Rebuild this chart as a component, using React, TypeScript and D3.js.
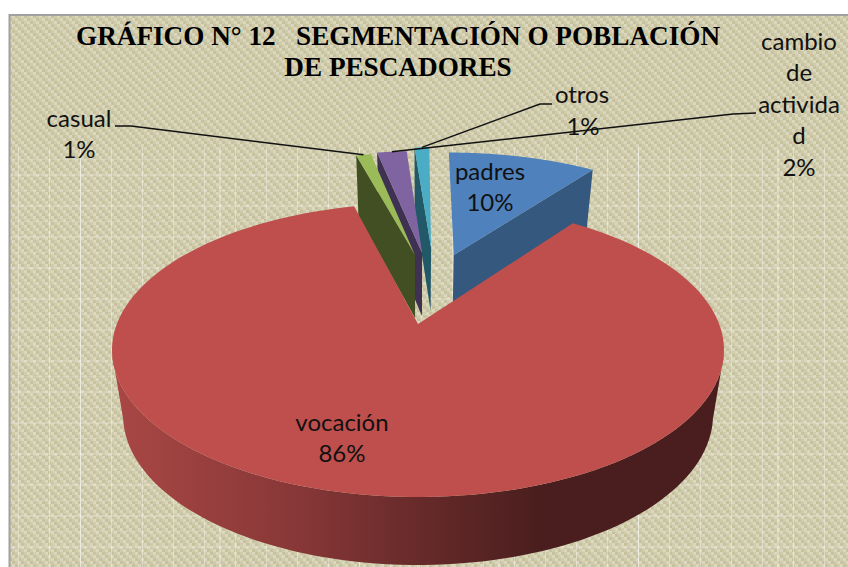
import React from "react";
import * as d3 from "d3";

const categories = ["padres", "vocación", "casual", "cambio de actividad", "otros"];
const values = [10, 86, 1, 2, 1];
const topColors = ["#4F81BD", "#BE4F4D", "#9BBB59", "#8064A2", "#4BACC6"];
const wallColors = ["#35587F", "url(#redWall)", "#414F22", "#3F3151", "#215968"];
const offsetX = [0.13, 0, -0.011, 0.015, 0.048];
const offsetY = [0.53, 0, 0.53, 0.547, 0.59];
const drawOrder = [0, 4, 3, 2, 1];
const titleLines = ["GRÁFICO N° 12   SEGMENTACIÓN O POBLACIÓN", "DE PESCADORES"];
const W = 848, H = 567;
const TILT = 0.177;
const topDisk = { cx: 418, cy: 350, rx: 306, ry: 147 };
const baseDisk = { cx: 418, cy: 415, rx: 295, ry: 150 };

type Disk = typeof topDisk;
const project = (X: number, Y: number, d: Disk): [number, number] => {
  const den = 1 + TILT * Y;
  const px = (X * Math.sqrt(1 - TILT * TILT)) / den;
  const py = (Y + TILT) / den;
  return [d.cx + d.rx * px, d.cy - d.ry * py];
};

const arcs = d3.pie<number>().sort(null).startAngle(0).endAngle(2 * Math.PI)(values);
const line = d3.line();
const pt = (i: number, a: number, r: number, d: Disk) =>
  project(offsetX[i] + r * Math.sin(a), offsetY[i] + r * Math.cos(a), d);
const sample = (a0: number, a1: number) =>
  d3.range(0, 161).map((k) => a0 + ((a1 - a0) * k) / 160);

const slices = arcs.map((arc, i) => {
  const angles = sample(arc.startAngle, arc.endAngle);
  const rim = angles.map((a) => pt(i, a, 1, topDisk));
  const top = line([pt(i, 0, 0, topDisk), ...rim])! + "Z";
  const walls: string[] = [];
  const radial = (a: number) => {
    walls.push(line([pt(i, 0, 0, topDisk), pt(i, a, 1, topDisk), pt(i, a, 1, baseDisk), pt(i, 0, 0, baseDisk)])! + "Z");
  };
  if (Math.sin(arc.startAngle) < -1e-6) radial(arc.startAngle);
  if (Math.sin(arc.endAngle) > 1e-6) radial(arc.endAngle);
  const front = angles.filter((a) => offsetY[i] + Math.cos(a) <= -TILT);
  if (front.length > 1) {
    const a = front.map((v) => pt(i, v, 1, topDisk));
    const b = front.map((v) => pt(i, v, 1, baseDisk)).reverse();
    walls.push(line([...a, ...b])! + "Z");
  }
  return { top, walls, i, mid: (arc.startAngle + arc.endAngle) / 2 };
});

const minorX = d3.range(18.5, W, 15.5);
const gridTop = 147;
const minorY = d3.range(35, 9, -1).map((k) => 547 - 15.5 * (35 - k)).filter((y) => y > gridTop);

const labelFont = "Lato, 'Open Sans', sans-serif";
const labels: { x: number; y: number; t: string }[] = [
  { x: 490, y: 180, t: "padres" }, { x: 490, y: 211, t: "10%" },
  { x: 342, y: 431, t: "vocación" }, { x: 342, y: 462, t: "86%" },
  { x: 79, y: 127, t: "casual" }, { x: 79, y: 158, t: "1%" },
  { x: 582, y: 103, t: "otros" }, { x: 583, y: 135, t: "1%" },
  { x: 799, y: 50, t: "cambio" }, { x: 799, y: 81, t: "de" }, { x: 799, y: 113, t: "activida" },
  { x: 799, y: 144, t: "d" }, { x: 799, y: 176, t: "2%" },
];
const leaders: { slice: number; from: [number, number][] }[] = [
  { slice: 2, from: [[115, 126], [131, 126]] },
  { slice: 4, from: [[552, 104], [540, 104]] },
  { slice: 3, from: [[756, 113], [733, 114]] },
];

export default function App() {
  return (
    <svg width={W} height={H} viewBox={`0 0 ${W} ${H}`} style={{ position: "absolute", left: 0, top: 0, display: "block", background: "#fff" }}>
      <defs>
        <pattern id="weave" width={9} height={9} patternUnits="userSpaceOnUse">
          <rect width={9} height={9} fill="#DAD7BE" />
          {d3.range(3).flatMap((r) =>
            d3.range(3).filter((c) => (c - r + 3) % 3 === 0).map((c) => (
              <rect key={`${r}-${c}`} x={c * 3} y={r * 3} width={3} height={3} fill="#C6C29E" />
            ))
          )}
          {d3.range(3).map((r) => (
            <rect key={r} x={((r + 1) % 3) * 3} y={r * 3} width={3} height={3} fill="#CFCBAB" />
          ))}
        </pattern>
        <linearGradient id="redWall" gradientUnits="userSpaceOnUse" x1={118} x2={540} y1={0} y2={0}>
          <stop offset="0" stopColor="#A84745" />
          <stop offset="0.43" stopColor="#873737" />
          <stop offset="0.67" stopColor="#6C2C2C" />
          <stop offset="1" stopColor="#4A1E1E" />
        </linearGradient>
      </defs>
      <rect x={10} y={15} width={W - 10} height={H - 15} fill="url(#weave)" />
      <g stroke="#fff">
        {minorX.map((x, k) => (
          <line key={k} x1={x} x2={x} y1={gridTop} y2={H} strokeOpacity={k % 9 === 4 ? 0.6 : k % 2 === 0 ? 0.35 : 0.15} />
        ))}
        {minorY.map((y, k) => (
          <line key={k} x1={10} x2={W} y1={y} y2={y} strokeOpacity={k % 2 === 0 ? 0.4 : 0.15} />
        ))}
      </g>
      <path d={`M9.5 ${H}V15H${W}`} fill="none" stroke="#A0A0A0" strokeWidth={2} />
      {drawOrder.map((idx) => {
        const s = slices[idx];
        return (
          <g key={categories[idx]}>
            {s.walls.map((d, k) => (
              <path key={k} d={d} fill={wallColors[idx]} />
            ))}
            <path d={s.top} fill={topColors[idx]} />
          </g>
        );
      })}
      <g fill="none" stroke="#111" strokeWidth={1.5}>
        {leaders.map((l) => {
          const s = slices[l.slice];
          return <path key={l.slice} d={line([...l.from, pt(l.slice, s.mid, 1, topDisk)])!} />;
        })}
      </g>
      <g fontFamily="'Liberation Serif', serif" fontWeight="bold" fontSize={27.2} fill="#000" textAnchor="middle">
        {titleLines.map((t, k) => (
          <text key={k} x={398} y={45 + k * 31} xmlSpace="preserve" style={{ whiteSpace: "pre" }}>{t}</text>
        ))}
      </g>
      <g fontFamily={labelFont} fontSize={24} fill="#111" textAnchor="middle">
        {labels.map((l, k) => (
          <text key={k} x={l.x} y={l.y}>{l.t}</text>
        ))}
      </g>
    </svg>
  );
}
